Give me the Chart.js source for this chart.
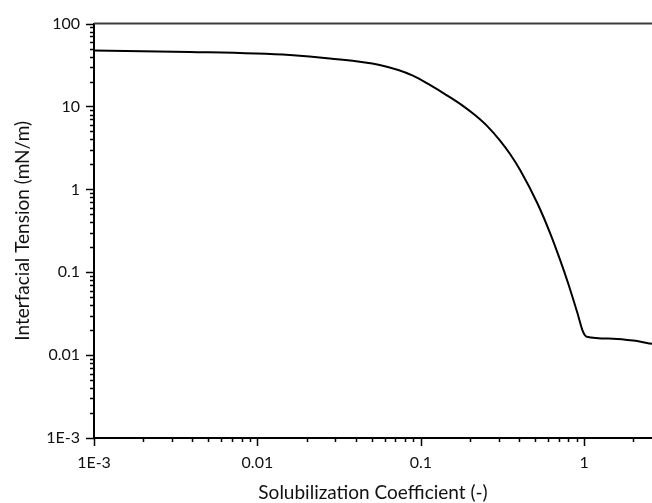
<!DOCTYPE html>
<html>
<head>
<meta charset="utf-8">
<script src="https://cdn.jsdelivr.net/npm/chart.js@4.4.1/dist/chart.umd.min.js"></script>
<style>
  html, body { margin: 0; padding: 0; background: #fff; }
  canvas { display: block; }
</style>
</head>
<body>
<canvas id="ift" width="652" height="503"></canvas>
<script>
// Interfacial tension vs. solubilization coefficient (log-log)
const solubilization = [0.001, 0.00386, 0.0158, 0.0277, 0.056, 0.0894, 0.1143, 0.1452, 0.1819, 0.2154,
                        0.2551, 0.3063, 0.3526, 0.4061, 0.516, 0.6194, 0.7129, 0.7982, 0.9062, 0.986,
                        1.036, 1.5, 1.994, 2.6];
const tension = [47.4, 45.5, 41.7, 38.0, 31.6, 23.6, 18.06, 13.55, 10.11, 7.82,
                 5.79, 3.85, 2.65, 1.70, 0.685, 0.295, 0.140, 0.0732, 0.0329, 0.0189,
                 0.0167, 0.0158, 0.015, 0.0137];

const xMajorTicks = [0.001, 0.01, 0.1, 1];
const xTickLabels = ['1E-3', '0.01', '0.1', '1'];
const yMajorTicks = [0.001, 0.01, 0.1, 1, 10, 100];
const yTickLabels = ['1E-3', '0.01', '0.1', '1', '10', '100'];

const X_MIN = 0.001, X_MAX = 2.6, Y_MIN = 0.001, Y_MAX = 100;
const TEXT = '#111';
const FONT = "Lato, 'Open Sans', sans-serif";

// major decades plus 2..9 minor ticks inside the range
function logTicks(majors, min, max) {
  const out = [];
  majors.forEach(m => {
    for (let k = 1; k <= 9; k++) {
      const v = +(m * k).toPrecision(6);
      if (v >= min - 1e-12 && v <= max + 1e-12) out.push({ value: v, major: k === 1 });
    }
  });
  return out;
}

function labelFor(value, majors, labels) {
  const i = majors.findIndex(m => Math.abs(m - value) / m < 1e-6);
  return i >= 0 ? labels[i] : '';
}

// outward tick marks on the left and bottom axes, plus the top frame line
const tickMarks = {
  id: 'tickMarks',
  afterDatasetsDraw(chart) {
    const { ctx, chartArea: a, scales } = chart;
    ctx.save();
    ctx.strokeStyle = '#000';
    ctx.lineWidth = 1.5;
    scales.x.ticks.forEach(t => {
      const px = Math.round(scales.x.getPixelForValue(t.value)) + 0.5;
      const len = t.major ? 8 : 4;
      ctx.beginPath();
      ctx.moveTo(px, a.bottom);
      ctx.lineTo(px, a.bottom + len);
      ctx.stroke();
    });
    scales.y.ticks.forEach(t => {
      const py = Math.round(scales.y.getPixelForValue(t.value)) + 0.5;
      const len = t.major ? 8 : 4;
      ctx.beginPath();
      ctx.moveTo(a.left, py);
      ctx.lineTo(a.left - len, py);
      ctx.stroke();
    });
    ctx.strokeStyle = '#3c3c3c';
    ctx.lineWidth = 2;
    ctx.beginPath();
    ctx.moveTo(a.left, a.top);
    ctx.lineTo(a.right, a.top);
    ctx.stroke();
    ctx.restore();
  }
};

new Chart(document.getElementById('ift'), {
  type: 'scatter',
  data: {
    datasets: [{
      data: solubilization.map((x, i) => ({ x: x, y: tension[i] })),
      showLine: true,
      borderColor: '#000',
      borderWidth: 2,
      pointRadius: 0,
      cubicInterpolationMode: 'monotone',
      fill: false
    }]
  },
  options: {
    responsive: false,
    animation: false,
    devicePixelRatio: 1,
    layout: { padding: { top: 20, right: 0, left: 0, bottom: 0 } },
    plugins: { legend: { display: false }, tooltip: { enabled: false } },
    scales: {
      x: {
        type: 'logarithmic',
        min: X_MIN,
        max: X_MAX,
        afterBuildTicks: s => { s.ticks = logTicks(xMajorTicks, X_MIN, X_MAX); },
        afterFit: s => { s.height = 65; },
        grid: { drawOnChartArea: false, drawTicks: false },
        border: { display: true, color: '#000', width: 2 },
        ticks: {
          autoSkip: false,
          maxRotation: 0,
          padding: 15,
          color: TEXT,
          font: { family: FONT, size: 16 },
          callback: v => labelFor(v, xMajorTicks, xTickLabels)
        },
        title: {
          display: true,
          text: 'Solubilization Coefficient (-)',
          color: TEXT,
          font: { family: FONT, size: 19 },
          padding: { top: 0, bottom: -1 }
        }
      },
      y: {
        type: 'logarithmic',
        min: Y_MIN,
        max: Y_MAX,
        afterBuildTicks: s => { s.ticks = logTicks(yMajorTicks, Y_MIN, Y_MAX); },
        afterFit: s => { s.width = 94; },
        grid: { drawOnChartArea: false, drawTicks: false },
        border: { display: true, color: '#000', width: 2 },
        ticks: {
          autoSkip: false,
          padding: 14,
          color: TEXT,
          font: { family: FONT, size: 16 },
          callback: v => labelFor(v, yMajorTicks, yTickLabels)
        },
        title: {
          display: true,
          text: 'Interfacial Tension (mN/m)',
          color: TEXT,
          font: { family: FONT, size: 19 },
          padding: { top: 11, bottom: 0 }
        }
      }
    }
  },
  plugins: [tickMarks]
});
</script>
</body>
</html>
